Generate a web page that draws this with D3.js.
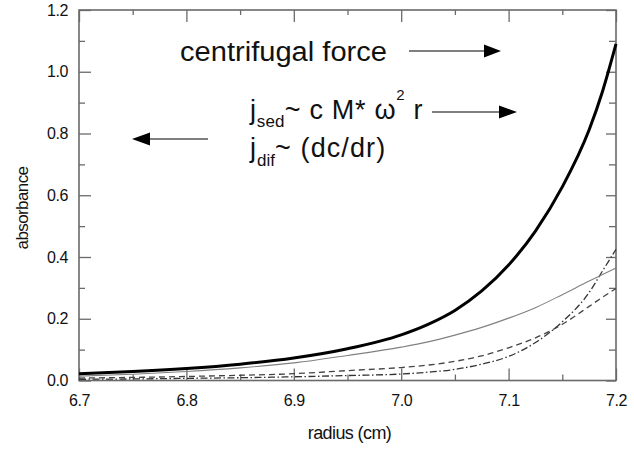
<!DOCTYPE html>
<html>
<head>
<meta charset="utf-8">
<script src="https://cdn.jsdelivr.net/npm/d3@7"></script>
<style>
  html, body { margin: 0; padding: 0; background: #fff; }
  svg { display: block; font-family: "Liberation Sans", Arial, sans-serif; }
</style>
</head>
<body>
<svg id="chart" width="634" height="449"></svg>
<script>
// ---- data ----
const radius      = [6.70, 6.75, 6.80, 6.85, 6.90, 6.95, 7.00, 7.025, 7.05, 7.075, 7.10, 7.125, 7.15, 7.175, 7.1875, 7.20];
const totalAbs    = [0.022, 0.029, 0.039, 0.053, 0.073, 0.103, 0.148, 0.182, 0.227, 0.290, 0.374, 0.484, 0.627, 0.812, 0.937, 1.090];
const speciesA    = [0.014, 0.020, 0.029, 0.041, 0.057, 0.081, 0.108, 0.125, 0.147, 0.172, 0.202, 0.236, 0.278, 0.322, 0.343, 0.364];
const speciesB    = [0.008, 0.010, 0.013, 0.017, 0.022, 0.032, 0.042, 0.050, 0.062, 0.080, 0.106, 0.138, 0.182, 0.240, 0.270, 0.298];
const speciesC    = [0.004, 0.005, 0.007, 0.009, 0.012, 0.016, 0.021, 0.027, 0.036, 0.053, 0.078, 0.123, 0.190, 0.285, 0.355, 0.425];

const xMajorTicks = [6.7, 6.8, 6.9, 7.0, 7.1, 7.2];
const xMinorTicks = [6.75, 6.85, 6.95, 7.05, 7.15];
const yMajorTicks = [0.0, 0.2, 0.4, 0.6, 0.8, 1.0, 1.2];
const yMinorTicks = [0.1, 0.3, 0.5, 0.7, 0.9, 1.1];
const xTitle = "radius (cm)";
const yTitle = "absorbance";

// ---- layout ----
const svg = d3.select("#chart");
const L = 79, R = 616, T = 10, B = 380.5;
const x = d3.scaleLinear().domain([6.7, 7.2]).range([L, R]);
const y = d3.scaleLinear().domain([0, 1.2]).range([B, T]);
const axisColor = "#6a6a6a";

function styleAxis(g) {
  g.select(".domain").remove();
  g.selectAll(".tick line").attr("stroke", axisColor).attr("stroke-width", 1.3);
  g.selectAll(".tick text").attr("fill", "#111").style("font-size", "16px").style("letter-spacing", "-0.4px");
}

// bottom
svg.append("g").attr("transform", `translate(0,${B})`)
  .call(d3.axisBottom(x).tickValues(xMajorTicks).tickFormat(d3.format(".1f")).tickSizeInner(-12).tickSizeOuter(0).tickPadding(14.5))
  .call(styleAxis);
svg.append("g").attr("transform", `translate(0,${B})`)
  .call(d3.axisBottom(x).tickValues(xMinorTicks).tickFormat("").tickSizeInner(-6).tickSizeOuter(0))
  .call(styleAxis);
// top
svg.append("g").attr("transform", `translate(0,${T})`)
  .call(d3.axisTop(x).tickValues(xMajorTicks).tickFormat("").tickSizeInner(-12).tickSizeOuter(0))
  .call(styleAxis);
svg.append("g").attr("transform", `translate(0,${T})`)
  .call(d3.axisTop(x).tickValues(xMinorTicks).tickFormat("").tickSizeInner(-5).tickSizeOuter(0))
  .call(styleAxis);
// left
svg.append("g").attr("transform", `translate(${L},0)`)
  .call(d3.axisLeft(y).tickValues(yMajorTicks).tickFormat(d3.format(".1f")).tickSizeInner(-12).tickSizeOuter(0).tickPadding(11))
  .call(styleAxis);
svg.append("g").attr("transform", `translate(${L},0)`)
  .call(d3.axisLeft(y).tickValues(yMinorTicks).tickFormat("").tickSizeInner(-6).tickSizeOuter(0))
  .call(styleAxis);
// right
svg.append("g").attr("transform", `translate(${R},0)`)
  .call(d3.axisRight(y).tickValues(yMajorTicks).tickFormat("").tickSizeInner(-10).tickSizeOuter(0))
  .call(styleAxis);
svg.append("g").attr("transform", `translate(${R},0)`)
  .call(d3.axisRight(y).tickValues(yMinorTicks).tickFormat("").tickSizeInner(-7).tickSizeOuter(0))
  .call(styleAxis);

// frame
svg.append("rect").attr("x", L).attr("y", T).attr("width", R - L).attr("height", B - T)
  .attr("fill", "none").attr("stroke", axisColor).attr("stroke-width", 1.6);

// axis titles
svg.append("text").attr("x", (L + R) / 2 + 2).attr("y", 439).attr("text-anchor", "middle")
  .style("font-size", "18px").style("letter-spacing", "-0.6px").attr("fill", "#111").text(xTitle);
svg.append("text").attr("transform", "translate(28,208) rotate(-90)").attr("text-anchor", "middle")
  .style("font-size", "17px").style("letter-spacing", "-0.6px").attr("fill", "#111").text(yTitle);

// curves
const pts = arr => radius.map((r, i) => [r, arr[i]]);
const line = d3.line().x(d => x(d[0])).y(d => y(d[1])).curve(d3.curveMonotoneX);
const plot = svg.append("g");
plot.append("path").attr("d", line(pts(speciesC))).attr("fill", "none")
  .attr("stroke", "#333").attr("stroke-width", 1.3).attr("stroke-dasharray", "7,2.5,1.5,2.5");
plot.append("path").attr("d", line(pts(speciesB))).attr("fill", "none")
  .attr("stroke", "#444").attr("stroke-width", 1.3).attr("stroke-dasharray", "6,4");
plot.append("path").attr("d", line(pts(speciesA))).attr("fill", "none")
  .attr("stroke", "#808080").attr("stroke-width", 1.1);
plot.append("path").attr("d", line(pts(totalAbs))).attr("fill", "none")
  .attr("stroke", "#000").attr("stroke-width", 3);

// annotations
const ann = svg.append("g").attr("fill", "#111");
ann.append("text").attr("x", 180).attr("y", 61).style("font-size", "27px")
  .attr("textLength", 207).attr("lengthAdjust", "spacingAndGlyphs").text("centrifugal force");

const l1 = ann.append("text").attr("x", 250).attr("y", 119).style("font-size", "27px").style("letter-spacing", "0.7px");
l1.append("tspan").text("j");
l1.append("tspan").attr("dy", 8).style("font-size", "17px").style("letter-spacing", "0.2px").text("sed");
l1.append("tspan").attr("dy", -8).text("~ c M* ω");
l1.append("tspan").attr("dy", -19).style("font-size", "15px").text("2");
l1.append("tspan").attr("dy", 19).text(" r");

const l2 = ann.append("text").attr("x", 250).attr("y", 157).style("font-size", "27px").style("letter-spacing", "1.1px");
l2.append("tspan").text("j");
l2.append("tspan").attr("dy", 9).style("font-size", "17px").style("letter-spacing", "0px").text("dif");
l2.append("tspan").attr("dy", -9).text("~ (dc/dr)");

function arrow(x1, x2, yy, head) {
  const dir = Math.sign(x2 - x1);
  const base = x2 - dir * head;
  svg.append("line").attr("x1", x1).attr("x2", base).attr("y1", yy).attr("y2", yy)
    .attr("stroke", "#555").attr("stroke-width", 1.6);
  svg.append("path").attr("d", `M${x2},${yy} L${base},${yy - 6.5} L${base},${yy + 6.5} Z`).attr("fill", "#000");
}
arrow(409, 501, 51, 17);
arrow(432, 517, 112, 18);
arrow(208, 132, 139, 18);
</script>
</body>
</html>
